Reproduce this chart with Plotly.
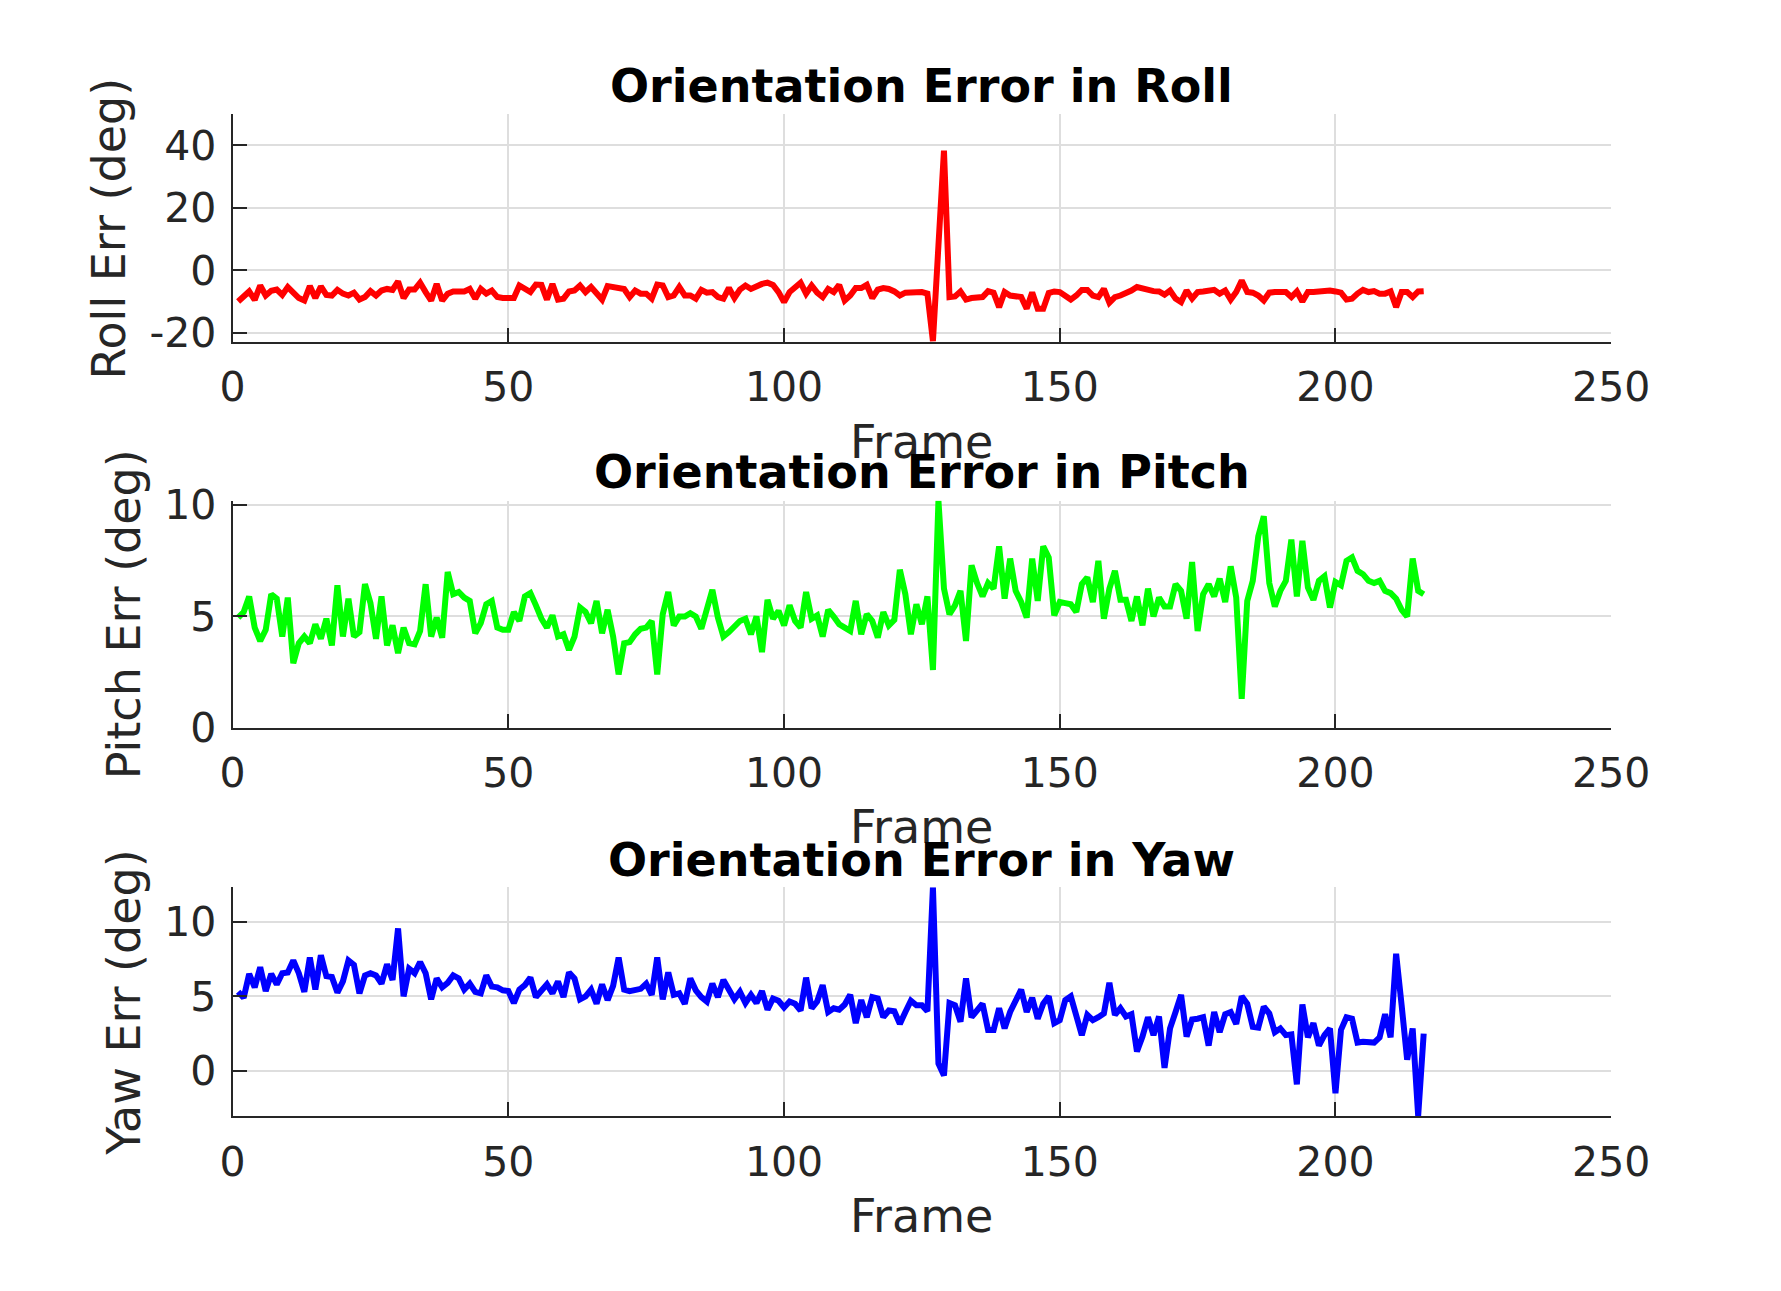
import plotly.graph_objects as go

W, H = 1781, 1291

frames = list(range(1, 217))

roll_err = [
    -9.9, -8.5, -6.7, -9.4, -4.8, -8.0, -6.5, -6.1, -7.8, -5.3,
    -7.4, -8.8, -9.6, -5.0, -8.8, -5.1, -7.8, -8.0, -6.2, -7.4,
    -8.0, -7.1, -9.3, -8.5, -6.6, -8.0, -6.4, -5.9, -6.2, -3.5,
    -8.8, -6.1, -6.1, -3.9, -6.9, -9.6, -4.3, -9.6, -7.4, -6.7,
    -6.7, -6.7, -5.9, -9.0, -5.9, -7.4, -6.4, -8.5, -8.8, -8.8,
    -8.8, -4.8, -5.6, -6.9, -4.5, -4.6, -9.3, -4.3, -9.3, -9.0,
    -6.7, -6.4, -4.8, -6.9, -5.3, -7.4, -9.3, -5.0, -5.3, -5.5,
    -5.9, -8.5, -6.4, -7.4, -7.4, -9.0, -4.5, -4.8, -8.5, -8.0,
    -5.3, -8.0, -8.0, -9.0, -6.2, -7.1, -6.9, -8.5, -9.0, -5.6,
    -8.8, -6.1, -4.8, -5.9, -5.0, -4.3, -3.9, -4.6, -6.9, -10.1,
    -6.9, -5.6, -3.9, -7.4, -4.8, -7.1, -8.5, -5.9, -6.9, -4.6,
    -9.6, -8.0, -5.6, -5.6, -4.6, -8.8, -6.1, -5.6, -5.9, -6.7,
    -8.0, -7.1, -7.1, -6.9, -6.9, -7.4, -22.6, 8.0, 38.3, -8.5,
    -8.3, -6.7, -9.3, -8.8, -8.8, -8.5, -6.6, -7.1, -11.7, -6.9,
    -8.0, -8.2, -8.5, -12.2, -7.0, -12.2, -12.2, -7.2, -6.7, -6.9,
    -8.0, -9.3, -8.0, -6.2, -6.2, -8.0, -8.5, -5.9, -10.3, -8.5,
    -8.0, -7.4, -6.4, -5.3, -5.9, -6.4, -6.6, -6.7, -7.7, -6.4,
    -9.0, -10.1, -6.4, -9.0, -6.9, -6.7, -6.6, -6.2, -7.4, -6.4,
    -9.3, -6.9, -3.2, -6.9, -7.1, -8.0, -9.6, -7.1, -6.9, -6.7,
    -6.9, -8.5, -6.7, -9.9, -6.9, -6.9, -6.7, -6.4, -6.4, -6.7,
    -7.1, -9.3, -9.0, -7.4, -6.2, -6.9, -6.6, -7.4, -7.4, -6.7,
    -11.7, -6.9, -6.9, -8.5, -6.7, -6.6,
]

pitch_err = [
    4.95, 5.2, 5.9, 4.5, 3.9, 4.4, 6.0, 5.8, 4.1, 5.85,
    2.9, 3.8, 4.1, 3.8, 4.65, 4.0, 4.9, 3.7, 6.4, 4.1,
    5.8, 4.1, 4.3, 6.45, 5.6, 4.0, 5.9, 3.7, 4.6, 3.35,
    4.5, 3.8, 3.75, 4.35, 6.45, 4.1, 4.95, 4.05, 7.0, 6.0,
    6.1, 5.85, 5.7, 4.25, 4.7, 5.55, 5.7, 4.5, 4.4, 4.4,
    5.2, 4.8, 5.9, 6.05, 5.5, 4.9, 4.5, 5.05, 4.1, 4.2,
    3.5, 4.1, 5.4, 5.2, 4.7, 5.7, 4.25, 5.3, 4.1, 2.4,
    3.8, 3.85, 4.2, 4.45, 4.5, 4.8, 2.4, 5.1, 6.1, 4.6,
    5.0, 5.0, 5.15, 5.0, 4.45, 5.3, 6.2, 4.95, 4.1, 4.3,
    4.6, 4.8, 4.9, 4.2, 5.0, 3.4, 5.75, 4.9, 5.25, 4.6,
    5.5, 4.8, 4.5, 6.1, 4.9, 5.05, 4.1, 5.3, 5.0, 4.65,
    4.5, 4.35, 5.7, 4.2, 5.1, 4.8, 4.05, 5.2, 4.6, 4.85,
    7.1, 6.0, 4.2, 5.55, 4.65, 5.9, 2.6, 10.2, 6.25, 5.1,
    5.5, 6.15, 3.9, 7.3, 6.5, 5.9, 6.5, 6.25, 8.15, 5.8,
    7.6, 6.15, 5.65, 4.95, 7.6, 5.7, 8.15, 7.65, 5.05, 5.65,
    5.6, 5.55, 5.2, 6.45, 6.75, 5.65, 7.5, 4.9, 6.25, 7.05,
    5.75, 5.75, 4.8, 5.9, 4.6, 6.25, 5.0, 5.85, 5.45, 5.45,
    6.45, 6.15, 4.9, 7.45, 4.35, 6.0, 6.45, 5.9, 6.7, 5.65,
    7.25, 5.85, 1.3, 5.7, 6.6, 8.6, 9.5, 6.5, 5.45, 6.15,
    6.6, 8.45, 5.9, 8.4, 6.3, 5.75, 6.6, 6.8, 5.4, 6.55,
    6.4, 7.5, 7.65, 7.05, 6.9, 6.6, 6.5, 6.6, 6.15, 6.05,
    5.8, 5.3, 5.0, 7.6, 6.15, 6.0,
]

yaw_err = [
    5.3, 4.9, 6.5, 5.6, 6.95, 5.35, 6.5, 5.8, 6.55, 6.6,
    7.4, 6.55, 5.3, 7.6, 5.45, 7.75, 6.35, 6.3, 5.25, 6.0,
    7.4, 7.1, 5.2, 6.4, 6.55, 6.4, 5.85, 7.15, 6.1, 9.55,
    5.0, 6.85, 6.55, 7.3, 6.55, 4.8, 6.2, 5.6, 5.9, 6.4,
    6.2, 5.45, 5.85, 5.3, 5.2, 6.4, 5.65, 5.6, 5.4, 5.35,
    4.55, 5.45, 5.75, 6.25, 4.95, 5.35, 5.8, 5.2, 6.0, 4.95,
    6.6, 6.2, 4.8, 5.0, 5.45, 4.5, 5.8, 4.75, 5.7, 7.6,
    5.45, 5.35, 5.45, 5.5, 5.85, 5.1, 7.6, 4.8, 6.6, 5.1,
    5.2, 4.5, 6.2, 5.4, 4.95, 4.65, 5.85, 4.95, 6.1, 5.5,
    4.8, 5.3, 4.55, 5.1, 4.55, 5.35, 4.1, 4.85, 4.7, 4.25,
    4.65, 4.5, 4.05, 6.25, 4.2, 4.65, 5.75, 3.95, 4.2, 4.1,
    4.45, 5.1, 3.2, 4.75, 3.6, 4.95, 4.85, 3.6, 4.05, 4.0,
    3.15, 3.95, 4.7, 4.4, 4.4, 4.0, 12.3, 0.5, -0.3, 4.55,
    4.4, 3.3, 6.2, 3.6, 4.05, 4.5, 2.75, 2.75, 4.2, 2.85,
    3.95, 4.75, 5.45, 3.95, 4.9, 3.5, 4.5, 5.0, 3.2, 3.4,
    4.75, 5.0, 3.6, 2.4, 3.75, 3.4, 3.6, 3.85, 5.9, 3.75,
    4.2, 3.65, 3.8, 1.3, 2.3, 3.6, 2.4, 3.65, 0.2, 2.85,
    3.95, 5.1, 2.3, 3.45, 3.5, 3.6, 1.7, 3.95, 2.6, 3.8,
    3.95, 3.15, 5.0, 4.5, 2.95, 2.9, 4.3, 3.85, 2.6, 2.85,
    2.4, 2.45, -0.9, 4.45, 2.25, 3.2, 1.7, 2.4, 2.85, -1.5,
    2.75, 3.6, 3.5, 1.9, 1.95, 1.9, 1.9, 2.25, 3.8, 2.25,
    7.85, 4.4, 0.75, 2.85, -3.0, 2.5,
]

x_ticks = [0, 50, 100, 150, 200, 250]
roll_ticks = [-20, 0, 20, 40]
roll_tick_text = ['-20', '0', '20', '40']
small_ticks = [0, 5, 10]

# one entry per subplot: (title, y label, data, colour, y range, tick values, tick text)
panels = [
    ('Orientation Error in Roll', 'Roll Err (deg)', roll_err, '#ff0000', [-22.9, 50], roll_ticks, roll_tick_text),
    ('Orientation Error in Pitch', 'Pitch Err (deg)', pitch_err, '#00ff00', [0, 10.2], small_ticks, None),
    ('Orientation Error in Yaw', 'Yaw Err (deg)', yaw_err, '#0000ff', [-3.05, 12.3], small_ticks, None),
]

# pixel boxes of each axes (top, bottom) and label positions
boxes = [(90, 326), (490, 725), (890, 1127)]
title_y = [61, 460, 862]
xlabel_y = [429, 828, 1230]
ylabel_x = [91, 106, 106]
x_left, x_right = 218, 1638

AX = '#262626'
GRID = '#dedede'
FONT = 'DejaVu Sans'
TICK_SIZE = 41
LABEL_SIZE = 46

fig = go.Figure()
annotations = []
layout = {}

for i, (title, ylab, vals, color, yrange, yticks, ytext) in enumerate(panels):
    n = '' if i == 0 else str(i + 1)
    top, bot = boxes[i]
    fig.add_trace(go.Scatter(x=frames, y=vals, mode='lines',
                             line=dict(color=color, width=6),
                             xaxis='x' + n, yaxis='y' + n, showlegend=False))
    layout['xaxis' + n] = dict(
        domain=[x_left / W, x_right / W], range=[0, 250], anchor='y' + n,
        tickvals=x_ticks, ticks='inside', ticklen=14, tickwidth=2, tickcolor=AX,
        showline=True, linecolor=AX, linewidth=2, mirror=False,
        showgrid=True, gridcolor=GRID, gridwidth=1.5, zeroline=False,
        tickfont=dict(family=FONT, size=TICK_SIZE, color=AX), ticklabelstandoff=8,
    )
    layout['yaxis' + n] = dict(
        domain=[1 - bot / H, 1 - top / H], range=yrange, anchor='x' + n,
        tickvals=yticks, ticktext=ytext, ticks='inside', ticklen=14, tickwidth=2, tickcolor=AX,
        showline=True, linecolor=AX, linewidth=2, mirror=False,
        showgrid=True, gridcolor=GRID, gridwidth=1.5, zeroline=False,
        tickfont=dict(family=FONT, size=TICK_SIZE, color=AX), ticklabelstandoff=6,
    )
    cx = (x_left + x_right) / 2 / W
    annotations.append(dict(text='<b>' + title + '</b>', x=cx, y=1 - title_y[i] / H,
                            xref='paper', yref='paper', showarrow=False,
                            xanchor='center', yanchor='middle',
                            font=dict(family=FONT, size=LABEL_SIZE, color='#000000')))
    annotations.append(dict(text='Frame', x=cx, y=1 - xlabel_y[i] / H,
                            xref='paper', yref='paper', showarrow=False,
                            xanchor='center', yanchor='middle',
                            font=dict(family=FONT, size=LABEL_SIZE, color=AX)))
    annotations.append(dict(text=ylab, x=ylabel_x[i] / W, y=1 - (top + bot) / 2 / H,
                            xref='paper', yref='paper', showarrow=False, textangle=-90,
                            xanchor='center', yanchor='middle',
                            font=dict(family=FONT, size=LABEL_SIZE, color=AX)))

fig.update_layout(
    width=W, height=H,
    margin=dict(l=0, r=0, t=0, b=0),
    paper_bgcolor='white', plot_bgcolor='white',
    annotations=annotations,
    **layout
)

fig.write_html("out.html")
